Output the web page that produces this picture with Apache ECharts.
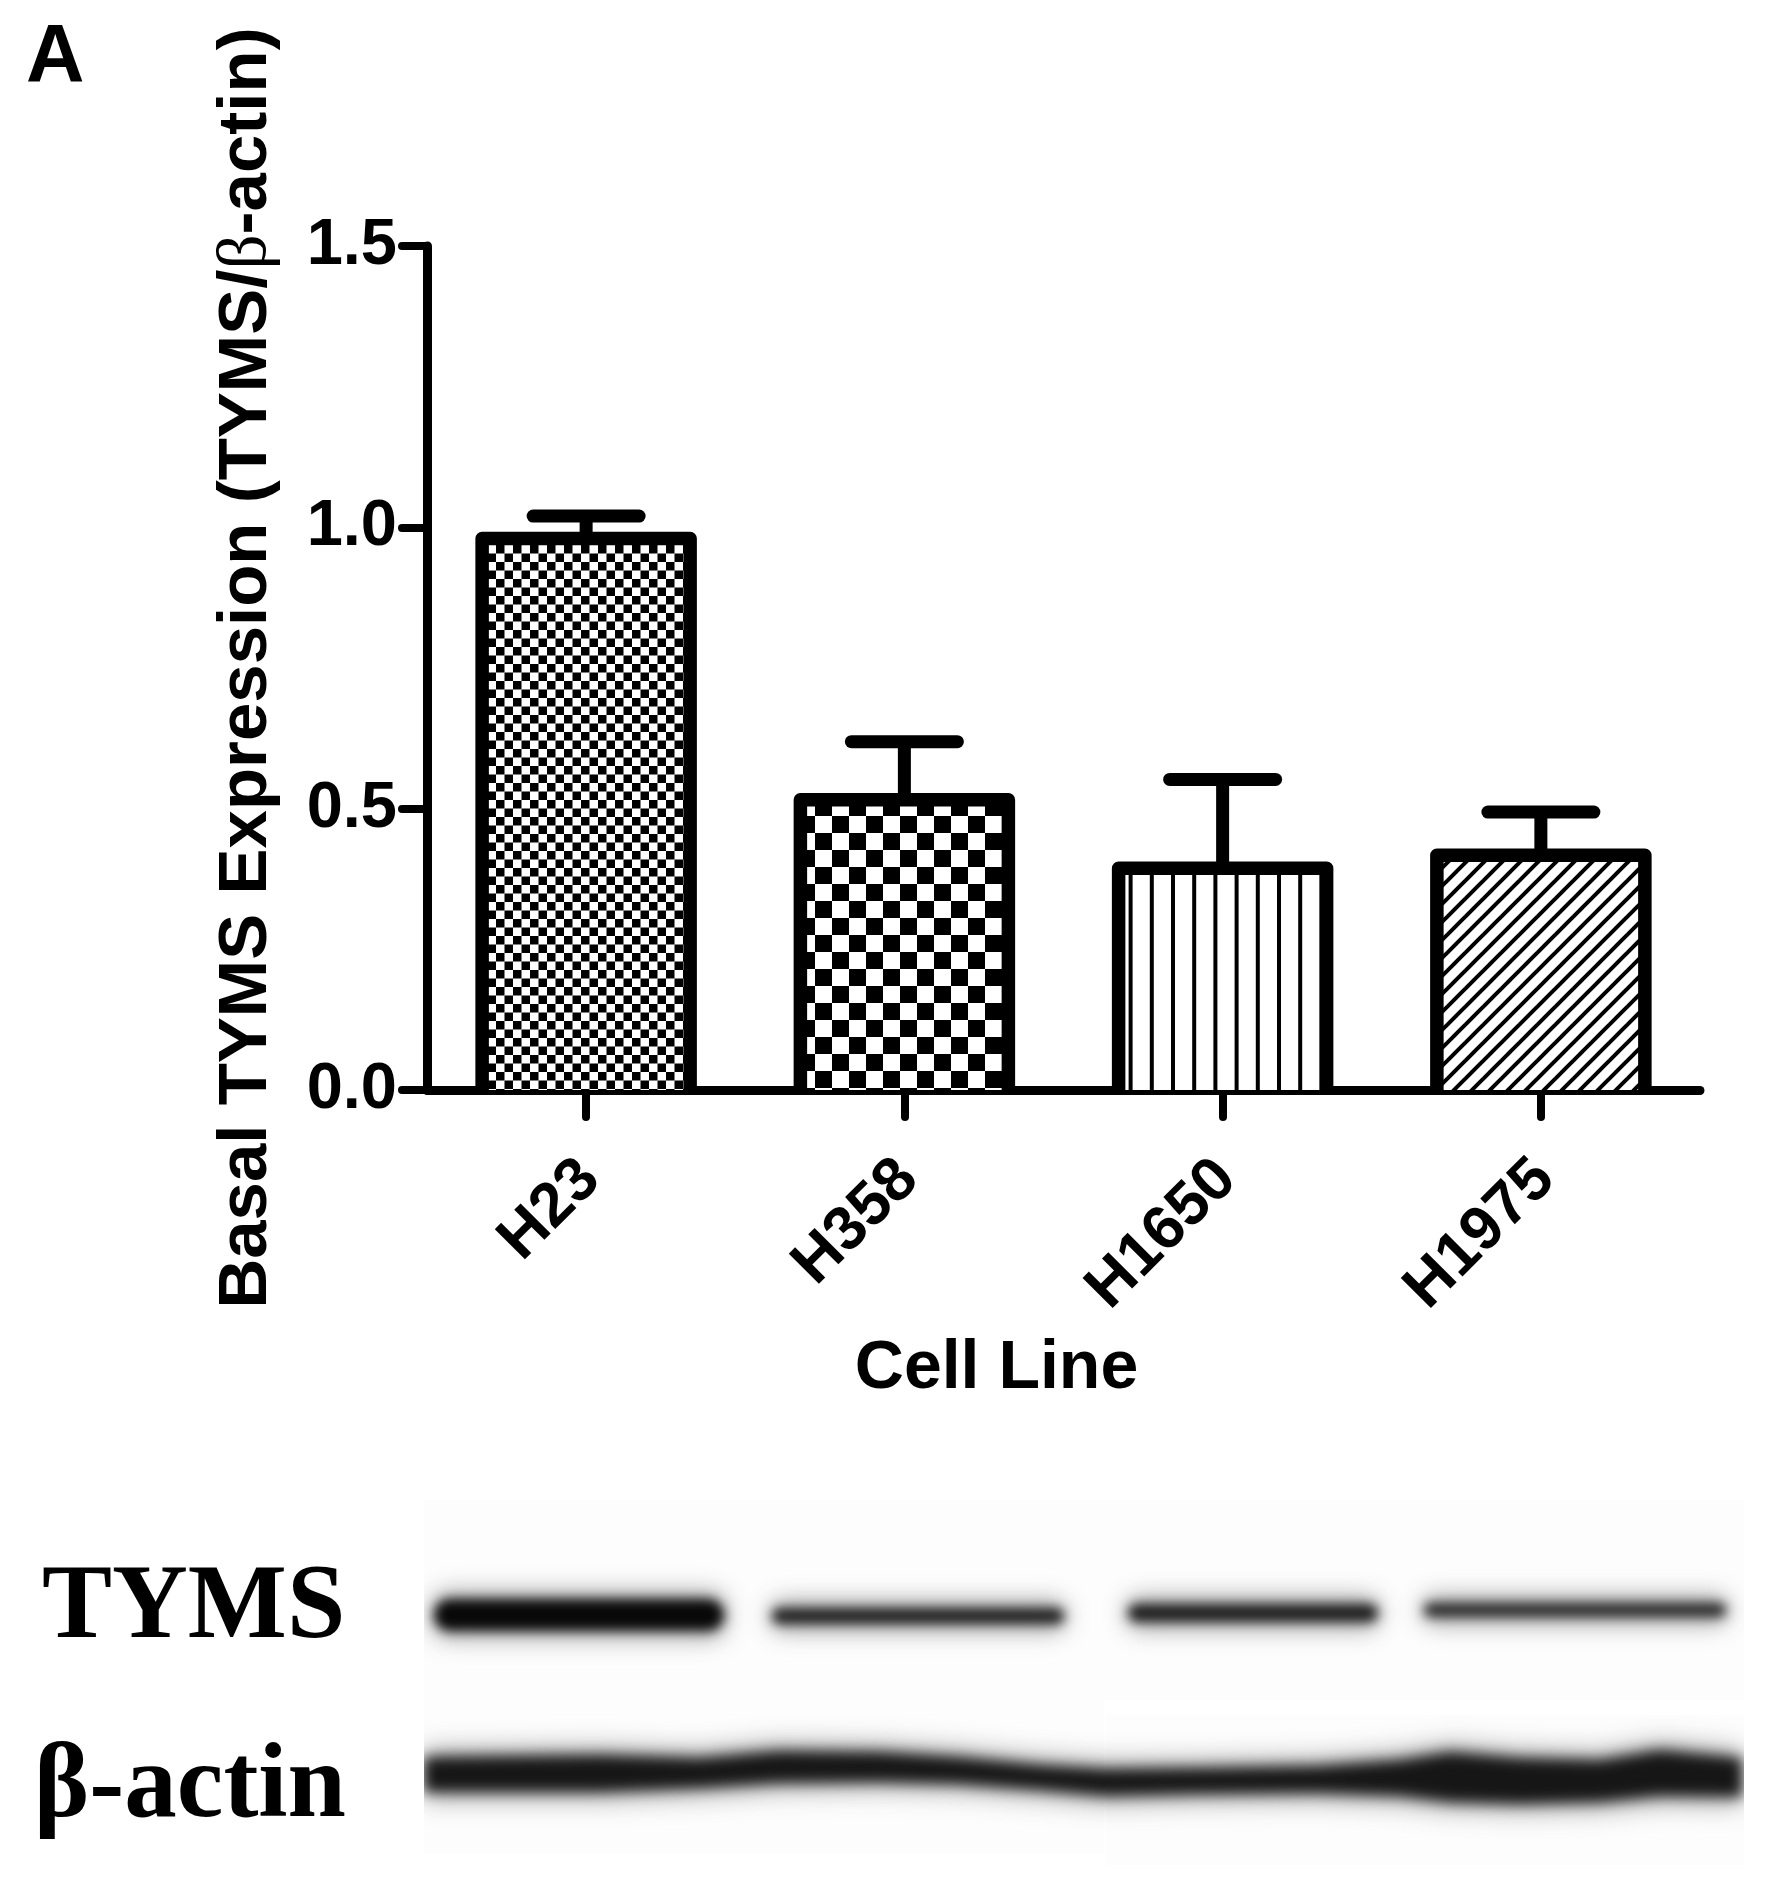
<!DOCTYPE html>
<html>
<head>
<meta charset="utf-8">
<title>Basal TYMS expression</title>
<script src="https://cdn.jsdelivr.net/npm/echarts@6/dist/echarts.min.js"></script>
<style>
html, body { margin: 0; padding: 0; background: #fff; }
#chart { width: 1772px; height: 1877px; }
</style>
</head>
<body>
<div id="chart"></div>
<script>
// values
let cellLines = ['H23', 'H358', 'H1650', 'H1975'];
let meanValues = [0.98, 0.516, 0.394, 0.417];
let errorTops = [1.02, 0.619, 0.552, 0.494];
let yTicks = [0, 0.5, 1, 1.5];

// blot bands, densities estimated by eye: [x0, x1, yCentre, halfHeight, grey]
let tymsBands = [
    [430, 728, 1615, 16, 8],
    [768, 1068, 1616, 8, 30],
    [1124, 1382, 1613, 9, 28],
    [1420, 1730, 1610, 7, 38]
];
// actin band outline, x / upper edge / lower edge
let actinX = [424, 600, 700, 778, 880, 958, 1040, 1107, 1200, 1317, 1400, 1450, 1520, 1600, 1660, 1742];
let actinUpper = [1757, 1755, 1758, 1751, 1752, 1757, 1765, 1769, 1768, 1766, 1760, 1752, 1758, 1760, 1750, 1758];
let actinLower = [1792, 1792, 1788, 1783, 1782, 1784, 1790, 1796, 1794, 1793, 1796, 1802, 1804, 1802, 1796, 1797];

const BAR_WIDTH = 208;
const BAR_LINE = 13.5;

function makeTile(size, draw) {
    let c = document.createElement('canvas');
    c.width = size;
    c.height = size;
    let ctx = c.getContext('2d');
    ctx.fillStyle = '#fff';
    ctx.fillRect(0, 0, size, size);
    ctx.fillStyle = '#000';
    ctx.strokeStyle = '#000';
    draw(ctx, size);
    return c;
}
function checker(ctx, s) {
    ctx.fillRect(0, 0, s / 2, s / 2);
    ctx.fillRect(s / 2, s / 2, s / 2, s / 2);
}
let patterns = [
    { image: makeTile(17, checker), repeat: 'repeat', x: 3, y: 1 },
    { image: makeTile(34, checker), repeat: 'repeat', x: 33, y: 17 },
    { image: makeTile(106, function (ctx) {
        for (let i = 0; i < 5; i++) ctx.fillRect(i * 21.2, 0, 4, 106);
    }), repeat: 'repeat', x: 5, y: 0 },
    { image: makeTile(18, function (ctx, s) {
        ctx.lineWidth = 4;
        for (let k = -1; k <= 1; k++) {
            ctx.beginPath();
            ctx.moveTo(k * s - 2, s + 2);
            ctx.lineTo(k * s + s + 2, -2);
            ctx.stroke();
        }
    }), repeat: 'repeat', x: 6, y: 0 }
];

function makeBlot() {
    let c = document.createElement('canvas');
    c.width = 1772;
    c.height = 1877;
    let ctx = c.getContext('2d');
    // faint scan panels behind the bands
    ctx.fillStyle = '#fdfdfd';
    ctx.fillRect(424, 1500, 650, 190);
    ctx.fillRect(1074, 1500, 670, 200);
    ctx.fillRect(424, 1684, 680, 170);
    ctx.fillRect(1106, 1715, 638, 150);
    tymsBands.forEach(function (b) {
        // soft halo first, the dense core over it
        ctx.filter = 'blur(11px)';
        ctx.fillStyle = 'rgba(40,40,40,0.35)';
        ctx.beginPath();
        ctx.roundRect(b[0], b[2] - b[3] - 9, b[1] - b[0], b[3] * 2 + 18, 20);
        ctx.fill();
        ctx.filter = 'blur(6px)';
        ctx.fillStyle = 'rgb(' + b[4] + ',' + b[4] + ',' + b[4] + ')';
        ctx.beginPath();
        ctx.roundRect(b[0] + 4, b[2] - b[3], b[1] - b[0] - 8, b[3] * 2, b[3]);
        ctx.fill();
    });
    function actinPath(grow) {
        ctx.beginPath();
        actinX.forEach(function (x, i) { ctx.lineTo(x, actinUpper[i] - grow); });
        for (let i = actinX.length - 1; i >= 0; i--) ctx.lineTo(actinX[i], actinLower[i] + grow);
        ctx.closePath();
        ctx.fill();
    }
    ctx.filter = 'blur(12px)';
    ctx.fillStyle = 'rgba(40,40,40,0.35)';
    actinPath(9);
    ctx.filter = 'blur(7px)';
    ctx.fillStyle = '#161616';
    actinPath(0);
    ctx.filter = 'none';
    // the picture stops at the panel edges
    ctx.clearRect(0, 1480, 424, 397);
    ctx.clearRect(1744, 1480, 28, 397);
    return c;
}

let sans = '"Liberation Sans", Arial, sans-serif';
let serif = '"Liberation Serif", "Times New Roman", serif';

let myChart = echarts.init(document.getElementById('chart'), null, { renderer: 'canvas' });

let option = {
    backgroundColor: '#fff',
    animation: false,
    grid: { left: 427, right: 72, top: 246, bottom: 787, containLabel: false },
    xAxis: {
        type: 'category',
        data: cellLines,
        axisLine: { lineStyle: { color: '#000', width: 9, cap: 'round' } },
        axisTick: { show: true, alignWithLabel: true, length: 27, lineStyle: { color: '#000', width: 8, cap: 'round' } },
        axisLabel: {
            rotate: 45,
            margin: 84,
            padding: [0, -6, 0, 0],
            color: '#000',
            fontFamily: sans,
            fontWeight: 'bold',
            fontSize: 62
        },
        name: 'Cell Line',
        nameLocation: 'middle',
        nameGap: 245,
        nameTextStyle: { color: '#000', fontFamily: sans, fontWeight: 'bold', fontSize: 68, padding: [0, 134, 0, 0] }
    },
    yAxis: {
        type: 'value',
        min: yTicks[0],
        max: yTicks[yTicks.length - 1],
        interval: 0.5,
        splitLine: { show: false },
        axisLine: { show: true, lineStyle: { color: '#000', width: 9, cap: 'round' } },
        axisTick: { show: true, length: 25, lineStyle: { color: '#000', width: 8, cap: 'round' } },
        axisLabel: {
            margin: 30,
            color: '#000',
            fontFamily: sans,
            fontWeight: 'bold',
            fontSize: 65,
            formatter: function (v) { return v.toFixed(1); }
        },
        name: '{a|Basal TYMS Expression (TYMS/}{b|β}{a|-actin)}',
        nameLocation: 'middle',
        nameRotate: 90,
        nameGap: 146,
        nameTextStyle: {
            rich: {
                a: { color: '#000', fontFamily: sans, fontWeight: 'bold', fontSize: 69 },
                b: { color: '#000', fontFamily: serif, fontSize: 69 }
            }
        }
    },
    series: [
        {
            name: 'TYMS/β-actin',
            type: 'bar',
            barWidth: BAR_WIDTH,
            data: meanValues.map(function (v, i) {
                return { value: v, itemStyle: { color: patterns[i] } };
            }),
            z: 1
        },
        {
            // bar outline without a bottom edge, and the upper error bar
            name: 'outline',
            type: 'custom',
            data: errorTops.map(function (v, i) { return [i, meanValues[i], v]; }),
            encode: { x: 0, y: [1, 2] },
            renderItem: function (params, api) {
                let base = api.coord([api.value(0), 0]);
                let mean = api.coord([api.value(0), api.value(1)]);
                let top = api.coord([api.value(0), api.value(2)]);
                let half = BAR_WIDTH / 2;
                let outline = { stroke: '#000', lineWidth: BAR_LINE, lineJoin: 'round', fill: null };
                let cap = { stroke: '#000', lineWidth: 13, lineCap: 'round', fill: null };
                return {
                    type: 'group',
                    children: [
                        {
                            type: 'polyline',
                            shape: { points: [[base[0] - half, base[1]], [base[0] - half, mean[1]], [base[0] + half, mean[1]], [base[0] + half, base[1]]] },
                            style: outline
                        },
                        { type: 'line', shape: { x1: mean[0], y1: mean[1], x2: top[0], y2: top[1] }, style: { stroke: '#000', lineWidth: 13 } },
                        { type: 'line', shape: { x1: top[0] - 53, y1: top[1], x2: top[0] + 53, y2: top[1] }, style: cap }
                    ]
                };
            },
            z: 2
        }
    ],
    graphic: [
        { type: 'image', left: 0, top: 0, z: -1, style: { image: makeBlot(), width: 1772, height: 1877 } },
        { type: 'text', left: 26, top: 18, style: { text: 'A', fill: '#000', font: 'bold 81px ' + sans } },
        { type: 'text', left: 42, top: 1557, style: { text: 'TYMS', fill: '#000', font: 'bold 105px ' + serif } },
        { type: 'text', left: 34, top: 1736, style: { text: 'β-actin', fill: '#000', font: 'bold 105px ' + serif } }
    ]
};
myChart.setOption(option);
</script>
</body>
</html>
